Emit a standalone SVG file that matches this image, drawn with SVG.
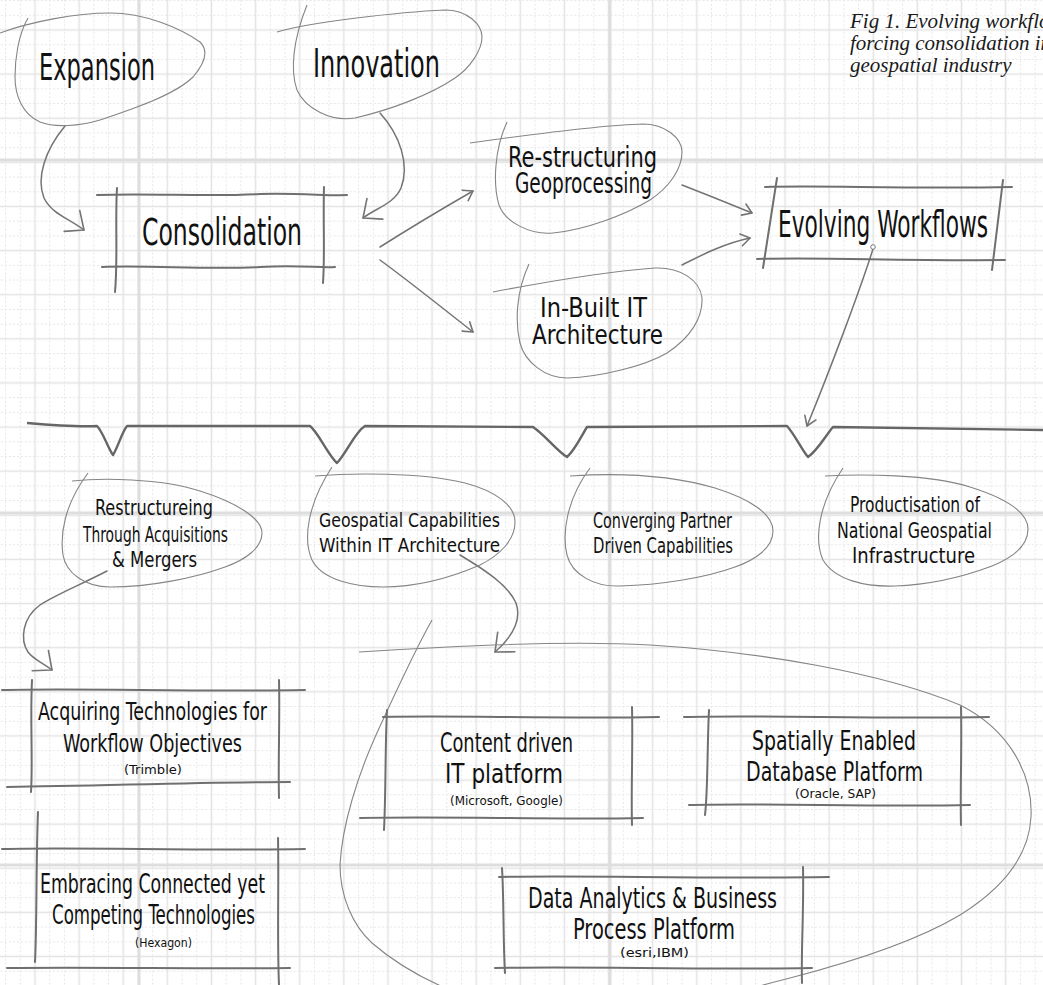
<svg xmlns="http://www.w3.org/2000/svg" width="1043" height="985" viewBox="0 0 1043 985">
<defs>
<pattern id="grid" x="12.94" y="7.94" width="44.12" height="44.12" patternUnits="userSpaceOnUse">
<path d="M7.36,0 V44.12 M36.76,0 V44.12 M0,7.36 H44.12 M0,36.76 H44.12" stroke="#e6e6e6" stroke-width="1" stroke-dasharray="2,2" fill="none"/>
<path d="M22.06,0 V44.12 M0,22.06 H44.12" stroke="#e4e4e4" stroke-width="1.6" fill="none"/>
</pattern>
<marker id="ahL" markerUnits="userSpaceOnUse" markerWidth="30" markerHeight="30" viewBox="-20 -15 25 30" refX="0" refY="0" orient="auto" overflow="visible">
<path d="M-15,-13 L0,0 L-15,13" fill="none" stroke="#747474" stroke-width="1.6" stroke-linecap="round" stroke-linejoin="round"/>
</marker>
<marker id="ahS" markerUnits="userSpaceOnUse" markerWidth="20" markerHeight="20" viewBox="-12 -10 15 20" refX="0" refY="0" orient="auto" overflow="visible">
<path d="M-9,-6 L0,0 L-9,6" fill="none" stroke="#747474" stroke-width="1.6" stroke-linecap="round" stroke-linejoin="round"/>
</marker>
</defs>
<style>
.hw{font-family:"Liberation Sans Narrow","DejaVu Sans Condensed","Liberation Sans",sans-serif;fill:#111;}
.blob{fill:none;stroke:#858585;stroke-width:1.1;}
.box{fill:none;stroke:#6f6f6f;stroke-width:2;stroke-linecap:round;}
.conn{fill:none;stroke:#747474;stroke-width:1.5;stroke-linecap:round;}
.cap{font-family:"Liberation Serif",serif;font-style:italic;font-size:21px;fill:#1a1a1a;}
.seam{stroke:#dedede;stroke-width:3;}
</style>

<rect x="0" y="0" width="1043" height="985" fill="#ffffff"/>
<rect x="0" y="0" width="1043" height="985" fill="url(#grid)"/>
<g id="paper-seams">
<line class="seam" x1="139" y1="0" x2="139" y2="985"/>
<line class="seam" x1="610" y1="0" x2="610" y2="985"/>
<line class="seam" x1="0" y1="160" x2="1043" y2="160"/>
<line class="seam" x1="0" y1="513" x2="1043" y2="513"/>
<line class="seam" x1="0" y1="865" x2="1043" y2="865"/>
</g>

<g id="caption">
<text class="cap" x="850" y="28">Fig 1. Evolving workflows</text>
<text class="cap" x="850" y="50">forcing consolidation in</text>
<text class="cap" x="850" y="72">geospatial industry</text>
</g>

<g id="connectors">
<path class="conn" d="M65,126 C45,150 36,178 44,198 C52,214 68,218 84,230" marker-end="url(#ahL)"/>
<path class="conn" d="M380,113 C400,135 410,165 401,188 C394,204 376,208 363,218" marker-end="url(#ahL)"/>
<path class="conn" d="M380,247 C410,228 440,210 473,191" marker-end="url(#ahS)"/>
<path class="conn" d="M380,260 C410,282 440,306 473,332" marker-end="url(#ahS)"/>
<path class="conn" d="M682,185 C705,194 730,204 752,213" marker-end="url(#ahS)"/>
<path class="conn" d="M682,265 C700,256 722,244 750,238" marker-end="url(#ahS)"/>
<path class="conn" d="M873,249 C860,290 830,370 807,426" marker-end="url(#ahS)"/>
<circle cx="873" cy="247" r="2.3" fill="#fff" stroke="#777" stroke-width="1"/>
<path class="conn" d="M107,571 C80,585 55,595 40,605 C22,618 20,640 28,652 C34,660 42,662 52,670" marker-end="url(#ahL)"/>
<path class="conn" d="M460,555 C485,570 508,585 516,603 C522,620 512,637 495,652" marker-end="url(#ahL)"/>
</g>

<g id="expansion">
<path class="blob" d="M0,33 C30,22 75,13 110,13 C145,13 180,28 200,42 C208,50 206,62 193,77 C175,95 130,110 100,120 C80,126 55,128 40,122 C22,114 15,95 15,77 C15,60 18,35 28,18"/>
<text class="hw" x="39" y="80" font-size="38" textLength="116" lengthAdjust="spacingAndGlyphs">Expansion</text>
</g>

<g id="innovation">
<path class="blob" d="M277,32 C310,22 400,12 445,10 C468,10 482,25 482,37 C482,50 470,68 455,78 C430,95 390,110 355,118 C330,122 305,108 297,90 C290,70 293,40 307,5"/>
<text class="hw" x="313" y="77" font-size="39" textLength="127" lengthAdjust="spacingAndGlyphs">Innovation</text>
</g>

<g id="consolidation">
<path class="box" d="M97,195 C150,193 210,197 260,194 C300,193 330,196 347,195"/>
<path class="box" d="M102,267 C150,265 210,270 260,267 C300,265 320,268 335,267"/>
<path class="box" d="M117,188 C115,220 118,260 115,292"/>
<path class="box" d="M324,187 C323,220 325,255 323,283"/>
<text class="hw" x="142" y="245" font-size="37" textLength="160" lengthAdjust="spacingAndGlyphs">Consolidation</text>
</g>

<g id="restructuring-geoprocessing">
<path class="blob" d="M470,143 C520,136 600,125 643,124 C665,124 682,138 682,152 C682,170 668,188 650,200 C625,215 585,230 553,233 C530,235 505,222 499,205 C493,185 494,150 507,122"/>
<text class="hw" x="508" y="167" font-size="28" textLength="149" lengthAdjust="spacingAndGlyphs">Re-structuring</text>
<text class="hw" x="515" y="193" font-size="28" textLength="137" lengthAdjust="spacingAndGlyphs">Geoprocessing</text>
</g>

<g id="inbuilt-it-architecture">
<path class="blob" d="M493,292 C540,283 600,272 655,268 C680,267 700,280 702,298 C703,318 690,338 667,353 C645,366 600,377 567,378 C545,378 525,362 520,343 C515,322 516,292 529,264"/>
<text class="hw" x="540" y="317" font-size="26" textLength="107" lengthAdjust="spacingAndGlyphs">In-Built IT</text>
<text class="hw" x="532" y="344" font-size="26" textLength="131" lengthAdjust="spacingAndGlyphs">Architecture</text>
</g>

<g id="evolving-workflows">
<path class="box" d="M765,187 C820,185 900,189 1012,187"/>
<path class="box" d="M757,259 C820,257 900,261 1005,260"/>
<path class="box" d="M777,178 L763,268"/>
<path class="box" d="M1003,180 L992,270"/>
<text class="hw" x="778" y="237" font-size="38" textLength="210" lengthAdjust="spacingAndGlyphs">Evolving Workflows</text>
</g>

<g id="bracket">
<path d="M27,423 C50,425 80,427 97,426 C103,432 108,448 113,455 C118,447 122,432 127,426 L310,426 C318,432 328,455 337,463 C347,452 355,432 365,426 L533,427 C545,435 558,452 567,457 C575,450 582,435 587,427 L787,426 C795,435 802,450 808,457 C818,450 826,435 833,427 L1043,430" fill="none" stroke="#666" stroke-width="2.4" stroke-linejoin="round"/>
</g>

<g id="restructureing-acquisitions-mergers">
<path class="blob" d="M72,481 C100,478 160,478 200,491 C235,502 262,518 262,533 C262,548 245,560 225,567 C195,578 150,587 110,587 C85,587 66,573 63,555 C60,535 64,505 88,473"/>
<text class="hw" x="95" y="515" font-size="21" textLength="118" lengthAdjust="spacingAndGlyphs">Restructureing</text>
<text class="hw" x="83" y="542" font-size="21" textLength="145" lengthAdjust="spacingAndGlyphs">Through Acquisitions</text>
<text class="hw" x="112" y="567" font-size="21" textLength="85" lengthAdjust="spacingAndGlyphs">&amp; Mergers</text>
</g>

<g id="geospatial-capabilities">
<path class="blob" d="M315,476 C350,473 420,472 465,483 C495,491 515,505 515,522 C515,540 500,555 480,565 C450,578 415,587 383,587 C355,587 322,580 312,560 C303,540 307,505 332,467"/>
<text class="hw" x="319" y="527" font-size="20" textLength="181" lengthAdjust="spacingAndGlyphs">Geospatial Capabilities</text>
<text class="hw" x="319" y="552" font-size="20" textLength="181" lengthAdjust="spacingAndGlyphs">Within IT Architecture</text>
</g>

<g id="converging-partner">
<path class="blob" d="M570,476 C600,474 660,472 715,488 C750,499 773,514 773,531 C773,548 755,560 735,567 C705,578 660,585 620,586 C595,587 572,575 567,555 C562,535 566,500 590,468"/>
<text class="hw" x="593" y="528" font-size="21" textLength="139" lengthAdjust="spacingAndGlyphs">Converging Partner</text>
<text class="hw" x="593" y="553" font-size="21" textLength="140" lengthAdjust="spacingAndGlyphs">Driven Capabilities</text>
</g>

<g id="productisation">
<path class="blob" d="M825,476 C860,474 930,474 970,487 C1005,498 1028,512 1028,529 C1028,546 1012,558 992,566 C960,578 925,585 895,586 C865,587 835,580 823,560 C814,540 818,505 843,468"/>
<text class="hw" x="850" y="512" font-size="21" textLength="130" lengthAdjust="spacingAndGlyphs">Productisation of</text>
<text class="hw" x="837" y="538" font-size="21" textLength="155" lengthAdjust="spacingAndGlyphs">National Geospatial</text>
<text class="hw" x="852" y="563" font-size="21" textLength="123" lengthAdjust="spacingAndGlyphs">Infrastructure</text>
</g>

<g id="acquiring-technologies">
<path class="box" d="M2,690 C80,688 200,692 305,690"/>
<path class="box" d="M7,787 C100,786 200,782 290,782"/>
<path class="box" d="M32,680 C30,720 33,760 31,792"/>
<path class="box" d="M279,680 C280,720 278,760 279,798"/>
<text class="hw" x="38" y="720" font-size="25" textLength="229" lengthAdjust="spacingAndGlyphs">Acquiring Technologies for</text>
<text class="hw" x="63" y="752" font-size="25" textLength="179" lengthAdjust="spacingAndGlyphs">Workflow Objectives</text>
<text class="hw" x="124" y="774" font-size="12" textLength="58" lengthAdjust="spacingAndGlyphs">(Trimble)</text>
</g>

<g id="embracing-technologies">
<path class="box" d="M2,849 C80,847 200,851 305,849"/>
<path class="box" d="M7,968 C100,967 200,969 290,968"/>
<path class="box" d="M38,812 C36,860 37,920 35,962"/>
<path class="box" d="M278,838 C279,880 277,940 279,985"/>
<text class="hw" x="40" y="893" font-size="26" textLength="225" lengthAdjust="spacingAndGlyphs">Embracing Connected yet</text>
<text class="hw" x="52" y="924" font-size="26" textLength="203" lengthAdjust="spacingAndGlyphs">Competing Technologies</text>
<text class="hw" x="135" y="947" font-size="12" textLength="57" lengthAdjust="spacingAndGlyphs">(Hexagon)</text>
</g>

<g id="platform-group">
<path class="blob" d="M359,652 C450,646 560,640 650,645 C760,652 880,672 960,705 C1010,730 1033,775 1031,817 C1029,858 1000,890 960,915 C910,945 840,965 790,978 C770,983 750,988 730,995"/>
<path class="blob" d="M432,620 C415,650 392,700 376,735 C358,775 342,825 340,865 C340,895 352,925 372,943 C395,963 420,978 455,992"/>
</g>

<g id="content-driven">
<path class="box" d="M383,717 C450,715 550,719 659,717"/>
<path class="box" d="M360,818 C450,816 550,820 643,818"/>
<path class="box" d="M387,710 C385,750 386,790 384,830"/>
<path class="box" d="M632,707 C633,750 631,790 632,825"/>
<text class="hw" x="440" y="752" font-size="27" textLength="133" lengthAdjust="spacingAndGlyphs">Content driven</text>
<text class="hw" x="445" y="783" font-size="27" textLength="118" lengthAdjust="spacingAndGlyphs">IT platform</text>
<text class="hw" x="450" y="805" font-size="12" textLength="113" lengthAdjust="spacingAndGlyphs">(Microsoft, Google)</text>
</g>

<g id="spatially-enabled">
<path class="box" d="M684,717 C760,715 880,719 989,717"/>
<path class="box" d="M689,805 C760,803 880,807 970,805"/>
<path class="box" d="M709,710 C707,750 708,790 705,815"/>
<path class="box" d="M961,707 C962,750 960,790 961,825"/>
<text class="hw" x="752" y="750" font-size="27" textLength="164" lengthAdjust="spacingAndGlyphs">Spatially Enabled</text>
<text class="hw" x="746" y="781" font-size="27" textLength="177" lengthAdjust="spacingAndGlyphs">Database Platform</text>
<text class="hw" x="795" y="798" font-size="12" textLength="81" lengthAdjust="spacingAndGlyphs">(Oracle, SAP)</text>
</g>

<g id="data-analytics">
<path class="box" d="M499,877 C580,875 700,879 829,877"/>
<path class="box" d="M495,968 C580,966 700,970 812,968"/>
<path class="box" d="M502,868 C504,900 503,940 505,973"/>
<path class="box" d="M803,867 C804,910 801,950 802,983"/>
<text class="hw" x="528" y="908" font-size="28" textLength="249" lengthAdjust="spacingAndGlyphs">Data Analytics &amp; Business</text>
<text class="hw" x="573" y="939" font-size="28" textLength="162" lengthAdjust="spacingAndGlyphs">Process Platform</text>
<text class="hw" x="620" y="957" font-size="12" textLength="69" lengthAdjust="spacingAndGlyphs">(esri,IBM)</text>
</g>
</svg>
